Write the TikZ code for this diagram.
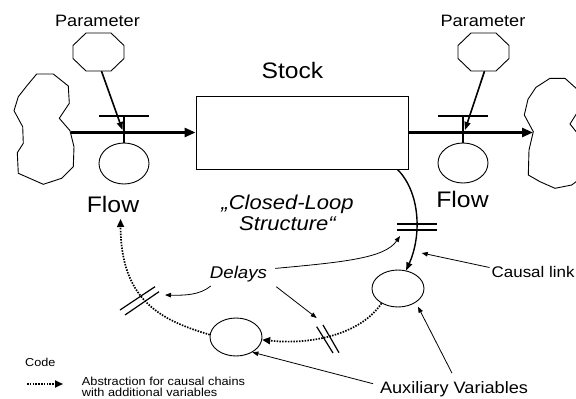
\documentclass[tikz,border=0pt]{standalone}
\usepackage{fontspec}
\setmainfont{Liberation Sans}[FakeStretch=1.1]
\usetikzlibrary{arrows.meta,shapes.geometric}
\begin{document}
\begin{tikzpicture}[x=1pt,y=-1pt,
  outline/.style={draw, line width=0.9pt},
  octabox/.style={inner sep=0pt, minimum width=51pt, minimum height=38pt},
  aux/.style={ellipse, draw, line width=0.9pt, inner sep=0pt},
  flowarrow/.style={line width=2.6pt, -{Triangle[length=11pt,width=9pt]}},
  valve/.style={line width=1.6pt},
  paramarrow/.style={line width=1.6pt, -{Triangle[length=8pt,width=6pt]}},
  causal/.style={line width=1.4pt, -{Triangle[length=8pt,width=6pt]}},
  delaymark/.style={line width=1.2pt},
  abstr/.style={line width=1.7pt, dash pattern=on 1.5pt off 1.3pt, -{Triangle[length=8pt,width=7pt]}},
  thinarrow/.style={line width=0.8pt, -{Triangle[length=6pt,width=4.5pt]}},
  lbl/.style={inner sep=0pt},
]
\useasboundingbox (0,0) rectangle (576,399);
\clip (0,0) rectangle (576,399);

% clouds
\draw[outline] (36.7,74) -- (53.3,74) -- (68.3,86) -- (69.3,103.3) -- (59.3,118.3) -- (70,130.7) -- (74,146.7) -- (73.3,166.7) -- (61.7,178.3) -- (43.3,184.3) -- (18.3,173.3) -- (17.3,152.7) -- (23.3,143.3) -- (22.7,126.7) -- (14,110.7) -- (18.3,96.7) -- (26.7,86) -- cycle;
\draw[outline] (550,78.3) -- (565,78.3) -- (578,90) -- (582,105) -- (570,124) -- (578,134) -- (585,150) -- (585,175) -- (571.7,185) -- (555,188.3) -- (540,181.7) -- (528.3,175) -- (529,150) -- (533.3,131.7) -- (524.3,115) -- (528,99.3) -- (536,87.3) -- cycle;

% stock
\node[outline, minimum width=212pt, minimum height=73pt, inner sep=0pt] (stock) at (302,132.5) {};
\node[lbl, anchor=base, font=\fontsize{22.4}{26}\selectfont] (stocklbl) at (292.5,78.3) {Stock};

% parameters
\node[octabox] (pL) at (98.5,52) {};
\node[octabox] (pR) at (483.5,52) {};
\foreach \p in {pL,pR}{
  \draw[outline] ([shift={(-12.5,-19)}]\p.center) -- ([shift={(12.5,-19)}]\p.center)
    -- ([shift={(25.5,-6.5)}]\p.center) -- ([shift={(25.5,6.5)}]\p.center)
    -- ([shift={(12.5,19)}]\p.center) -- ([shift={(-12.5,19)}]\p.center)
    -- ([shift={(-25.5,6.5)}]\p.center) -- ([shift={(-25.5,-6.5)}]\p.center) -- cycle;
}
\node[lbl, anchor=base, font=\fontsize{16.5}{19}\selectfont] (parL) at (97.5,26.7) {Parameter};
\node[lbl, anchor=base, font=\fontsize{16.5}{19}\selectfont] (parR) at (483,26.7) {Parameter};

% flows
\coordinate (cloudL) at (71,132.5);
\coordinate (cloudR) at (533,132.5);
\draw[flowarrow] (cloudL) -- (stock.west);
\draw[flowarrow] (stock.east) -- (cloudR);

\node[aux, minimum width=50pt, minimum height=41pt] (fcL) at (124,163.5) {};
\node[aux, minimum width=50pt, minimum height=40pt] (fcR) at (463,163) {};
\coordinate (vL) at (124,116);
\coordinate (vR) at (463,116);
\draw[valve] ([xshift=-25pt]vL) -- ([xshift=25pt]vL);
\draw[valve] ([xshift=-25pt]vR) -- ([xshift=25pt]vR);
\draw[valve] (vL) -- (fcL.north);
\draw[valve] (vR) -- (fcR.north);

\coordinate (tL) at (122.5,130);
\coordinate (tR) at (465,130);
\draw[paramarrow] ([xshift=3pt]pL.south) -- (tL);
\draw[paramarrow] ([xshift=1pt]pR.south) -- (tR);

\node[lbl, anchor=base, font=\fontsize{22.5}{26}\selectfont] (flowL) at (113,212.3) {Flow};
\node[lbl, anchor=base, font=\fontsize{22.5}{26}\selectfont] (flowR) at (462.5,207.3) {Flow};

% closed loop text
\node[lbl, anchor=base, align=center, font=\fontsize{20}{20.7}\selectfont\itshape] (cls) at (287.5,230) {„Closed-Loop\\Structure“};

% auxiliaries
\node[aux, minimum width=52pt, minimum height=37pt] (auxU) at (398,288.5) {};
\node[aux, minimum width=52pt, minimum height=38pt] (auxL) at (236,337) {};

% causal link
\draw[causal] ([xshift=-11pt]stock.south east) .. controls (420,192) and (422,235) .. (auxU);
\draw[delaymark] (397,224) -- (437,224) (397,230) -- (437,230);

% abstraction chains
\coordinate (flowtip) at (120.5,219);
\draw[abstr] (auxU.222) .. controls (360,335) and (310,345) .. (auxL);
\draw[abstr] (auxL.175) .. controls (160,320) and (121,300) .. (flowtip);
\draw[delaymark] (316.7,326.7) -- (333,353) (323,325) -- (339,352.7);
\draw[delaymark] (120,310) -- (155,286.7) (125,315) -- (159,291.7);

% delays
\node[lbl, anchor=base, font=\fontsize{17}{20}\selectfont\itshape] (delays) at (238.5,278.3) {Delays};
\coordinate (dL) at (165,295);
\coordinate (dU) at (400,236);
\coordinate (dLo) at (316.7,318);
\draw[thinarrow] ([shift={(1,4)}]delays.south west) .. controls (200,295) and (185,295.5) .. (dL);
\draw[thinarrow] ([shift={(8,-5.5)}]delays.east) .. controls (345,262) and (385,258) .. (dU);
\draw[thinarrow] ([shift={(9,4.7)}]delays.south east) -- (dLo);

% causal link label
\node[lbl, anchor=base west, font=\fontsize{15.4}{18}\selectfont] (causal) at (491.5,277) {Causal link};
\coordinate (clk) at (421.7,253);
\draw[thinarrow] ([shift={(-2,-4)}]causal.west) -- (clk);

% auxiliary variables label
\node[lbl, anchor=base, font=\fontsize{16.5}{19}\selectfont] (auxlbl) at (454,393.3) {Auxiliary Variables};
\coordinate (au1) at (418,306.7);
\draw[thinarrow] ([shift={(-2,-8)}]auxlbl.north) -- (au1);
\draw[thinarrow] ([shift={(-6.7,-5.3)}]auxlbl.west) -- (auxL.317);

% legend
\node[lbl, anchor=base west, font=\fontsize{11.5}{13}\selectfont] (code) at (25,366.7) {Code};
\coordinate (legA) at (27,384);
\coordinate (legB) at (63,384);
\draw[abstr] (legA) -- (legB);
\node[lbl, anchor=base west, align=left, font=\fontsize{11.6}{11.2}\selectfont] (legtxt) at (81.7,396.3) {Abstraction for causal chains\\with additional variables};
\end{tikzpicture}
\end{document}
